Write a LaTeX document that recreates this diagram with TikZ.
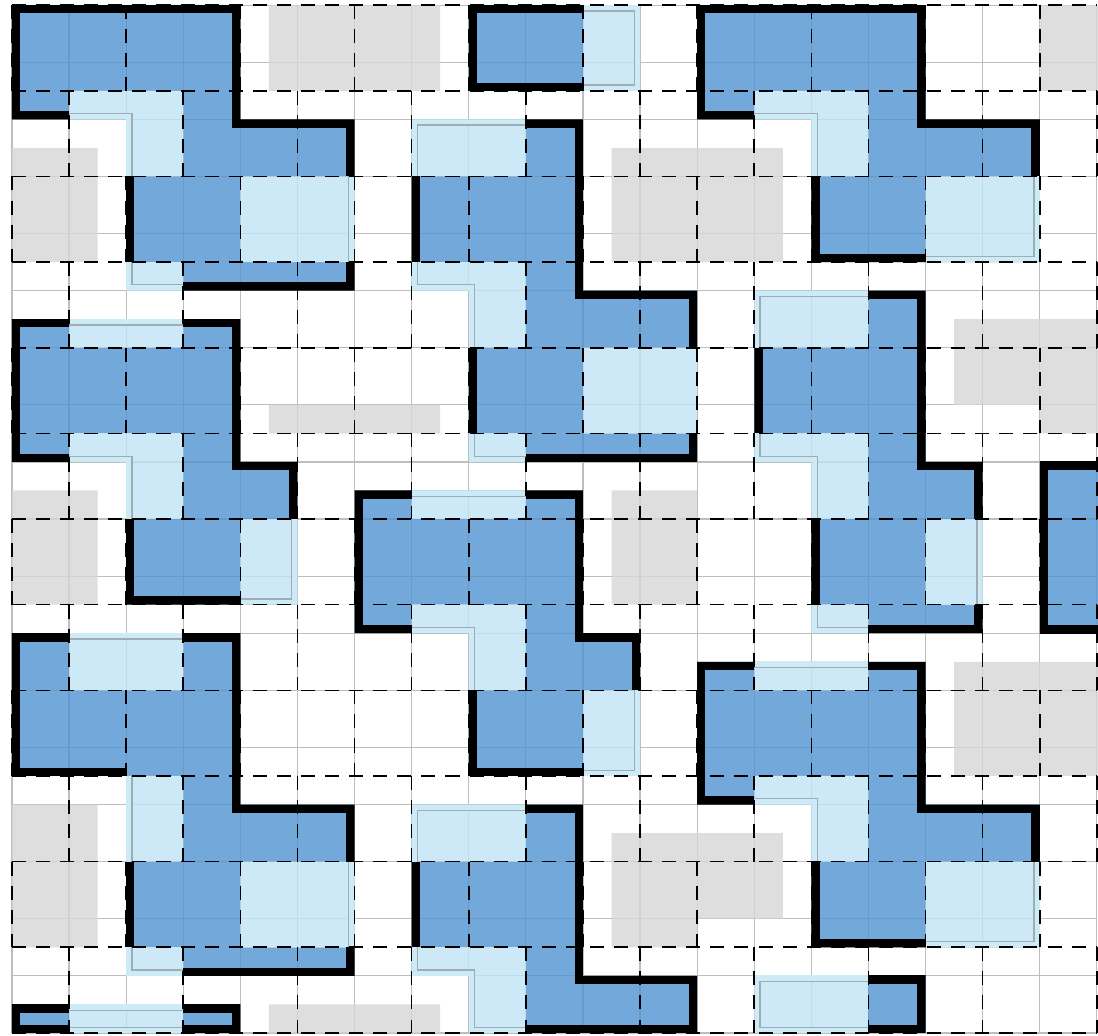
\documentclass[tikz,border=0pt]{standalone}
\usepackage{tikz}
\usepackage{xcolor}
\definecolor{tileblue}{RGB}{80,146,209}
\definecolor{tilelight}{RGB}{192,228,246}
\definecolor{tilelightsolid}{RGB}{205,234,247}
\definecolor{boxgray}{RGB}{214,214,214}
\definecolor{gridgray}{RGB}{190,190,190}
\definecolor{insetgray}{RGB}{160,172,178}

\begin{document}
\begin{tikzpicture}[yscale=-1,
  gridline/.style={gridgray,line width=0.6pt},
  dashline/.style={black,line width=0.8pt,dash pattern=on 7pt off 5pt},
  edgeline/.style={black,line width=0.29cm},
  insetline/.style={draw=insetgray,line width=0.022cm,double=tilelightsolid,double distance=0.18cm},
  tilefill/.style={fill=tileblue,fill opacity=0.8,even odd rule},
  lightfill/.style={fill=tilelight,fill opacity=0.8},
  boxfill/.style={fill=boxgray,fill opacity=0.8}]
\useasboundingbox (-0.21,-0.09) rectangle (19.02,18.05);
\clip (-0.21,-0.09) rectangle (19.02,18.05);
\foreach \x in {0,...,19} \draw[gridline] (\x,0)--(\x,18);
\foreach \y in {0,...,18} \draw[gridline] (0,\y)--(19,\y);
\fill[boxfill] (4.5,0) rectangle (7.5,1.5) (18,0) rectangle (19.5,1.5) (0,2.5) rectangle (1.5,4.5) (10.5,2.5) rectangle (13.5,4.5)
  (16.5,5.5) rectangle (19.5,7) (18,7) rectangle (19.5,7.5) (4.5,7) rectangle (7.5,7.5) (0,8.5) rectangle (1.5,10.5)
  (10.5,8.5) rectangle (12,10.5) (16.5,11.5) rectangle (19.5,13.5) (0,14) rectangle (1.5,16.5)
  (10.5,14.5) rectangle (13.5,16) (10.5,16) rectangle (12,16.5) (4.5,17.5) rectangle (7.5,18);
\begin{scope}
\clip (0,0)--(4,0)--(4,2)--(6,2)--(6,5)--(2,5)--(2,2)--(0,2)--cycle;
\fill[tilefill] (0,0) rectangle (6,5) (1,1.5)--(3,1.5)--(3,3)--(2,3)--(2,2)--(1,2)--cycle (4,3) rectangle (6,4.5) (2,4.5) rectangle (3,5);
\fill[lightfill] (1,1.5)--(3,1.5)--(3,3)--(2,3)--(2,2)--(1,2)--cycle (4,3) rectangle (6,4.5) (2,4.5) rectangle (3,5);
\draw[insetline] (1,2)--(2,2)--(2,3) (6,3)--(6,4.5) (3,5)--(2,5)--(2,4.5);
\draw[edgeline] (1,2)--(0,2)--(0,0)--(4,0)--(4,2)--(6,2)--(6,3) (6,4.5)--(6,5)--(3,5) (2,3)--(2,4.5);
\end{scope}
\begin{scope}
\clip (8,0) rectangle (11,1.5);
\fill[tilefill] (8,0) rectangle (10,1.5);
\fill[lightfill] (10,0) rectangle (11,1.5);
\draw[insetline] (10,0)--(11,0)--(11,1.5)--(10,1.5);
\draw[edgeline] (10,1.5)--(8,1.5)--(8,0)--(10,0);
\end{scope}
\begin{scope}
\clip (7,2)--(10,2)--(10,5)--(12,5)--(12,8)--(8,8)--(8,5)--(7,5)--cycle;
\fill[tilefill] (7,2) rectangle (12,8) (7,2) rectangle (9,3) (7,4.5)--(9,4.5)--(9,6)--(8,6)--(8,5)--(7,5)--cycle (10,6) rectangle (12,7.5) (8,7.5) rectangle (9,8);
\fill[lightfill] (7,2) rectangle (9,3) (7,4.5)--(9,4.5)--(9,6)--(8,6)--(8,5)--(7,5)--cycle (10,6) rectangle (12,7.5) (8,7.5) rectangle (9,8);
\draw[insetline] (7,3)--(7,2)--(9,2) (7,4.5)--(7,5)--(8,5)--(8,6) (8,7.5)--(8,8)--(9,8);
\draw[edgeline] (9,2)--(10,2)--(10,5)--(12,5)--(12,6) (12,7.5)--(12,8)--(9,8) (8,7.5)--(8,6) (7,4.5)--(7,3);
\end{scope}
\begin{scope}
\clip (13,5)--(16,5)--(16,8)--(17,8)--(17,11)--(14,11)--(14,8)--(13,8)--cycle;
\fill[tilefill] (13,5) rectangle (17,11) (13,5) rectangle (15,6) (13,7.5)--(15,7.5)--(15,9)--(14,9)--(14,8)--(13,8)--cycle (16,9) rectangle (17,10.5) (14,10.5) rectangle (15,11);
\fill[lightfill] (13,5) rectangle (15,6) (13,7.5)--(15,7.5)--(15,9)--(14,9)--(14,8)--(13,8)--cycle (16,9) rectangle (17,10.5) (14,10.5) rectangle (15,11);
\draw[insetline] (13,6)--(13,5)--(15,5) (13,7.5)--(13,8)--(14,8)--(14,9) (17,9)--(17,10.5) (14,10.5)--(14,11)--(15,11);
\draw[edgeline] (15,5)--(16,5)--(16,8)--(17,8)--(17,9) (17,10.5)--(17,11)--(15,11) (14,10.5)--(14,9) (13,7.5)--(13,6);
\end{scope}
\begin{scope}
\clip (12,0)--(16,0)--(16,2)--(18,2)--(18,4.5)--(14,4.5)--(14,2)--(12,2)--cycle;
\fill[tilefill] (12,0) rectangle (18,4.5) (13,1.5)--(15,1.5)--(15,3)--(14,3)--(14,2)--(13,2)--cycle (16,3) rectangle (18,4.5);
\fill[lightfill] (13,1.5)--(15,1.5)--(15,3)--(14,3)--(14,2)--(13,2)--cycle (16,3) rectangle (18,4.5);
\draw[insetline] (13,2)--(14,2)--(14,3) (18,3)--(18,4.5)--(16,4.5);
\draw[edgeline] (13,2)--(12,2)--(12,0)--(16,0)--(16,2)--(18,2)--(18,3) (16,4.5)--(14,4.5)--(14,3);
\end{scope}
\begin{scope}
\clip (0,5.5)--(4,5.5)--(4,8)--(5,8)--(5,10.5)--(2,10.5)--(2,8)--(0,8)--cycle;
\fill[tilefill] (0,5.5) rectangle (5,10.5) (1,5.5) rectangle (3,6) (1,7.5)--(3,7.5)--(3,9)--(2,9)--(2,8)--(1,8)--cycle (4,9) rectangle (5,10.5);
\fill[lightfill] (1,5.5) rectangle (3,6) (1,7.5)--(3,7.5)--(3,9)--(2,9)--(2,8)--(1,8)--cycle (4,9) rectangle (5,10.5);
\draw[insetline] (1,5.5)--(3,5.5) (1,8)--(2,8)--(2,9) (5,9)--(5,10.5)--(4,10.5);
\draw[edgeline] (1,5.5)--(0,5.5)--(0,8)--(1,8) (3,5.5)--(4,5.5)--(4,8)--(5,8)--(5,9) (2,9)--(2,10.5)--(4,10.5);
\end{scope}
\begin{scope}
\clip (0,11)--(4,11)--(4,14)--(6,14)--(6,17)--(2,17)--(2,13.5)--(0,13.5)--cycle;
\fill[tilefill] (0,11) rectangle (6,17) (1,11) rectangle (3,12) (2,13.5) rectangle (3,15) (4,15) rectangle (6,16.5) (2,16.5) rectangle (3,17);
\fill[lightfill] (1,11) rectangle (3,12) (2,13.5) rectangle (3,15) (4,15) rectangle (6,16.5) (2,16.5) rectangle (3,17);
\draw[insetline] (1,11)--(3,11) (2,13.5)--(2,15) (6,15)--(6,16.5) (2,16.5)--(2,17)--(3,17);
\draw[edgeline] (1,11)--(0,11)--(0,13.5)--(2,13.5) (3,11)--(4,11)--(4,14)--(6,14)--(6,15) (6,16.5)--(6,17)--(3,17) (2,16.5)--(2,15);
\end{scope}
\begin{scope}
\clip (6,8.5)--(10,8.5)--(10,11)--(11,11)--(11,13.5)--(8,13.5)--(8,11)--(6,11)--cycle;
\fill[tilefill] (6,8.5) rectangle (11,13.5) (7,8.5) rectangle (9,9) (7,10.5)--(9,10.5)--(9,12)--(8,12)--(8,11)--(7,11)--cycle (10,12) rectangle (11,13.5);
\fill[lightfill] (7,8.5) rectangle (9,9) (7,10.5)--(9,10.5)--(9,12)--(8,12)--(8,11)--(7,11)--cycle (10,12) rectangle (11,13.5);
\draw[insetline] (7,8.5)--(9,8.5) (7,11)--(8,11)--(8,12) (11,12)--(11,13.5)--(10,13.5);
\draw[edgeline] (7,8.5)--(6,8.5)--(6,11)--(7,11) (9,8.5)--(10,8.5)--(10,11)--(11,11)--(11,12) (8,12)--(8,13.5)--(10,13.5);
\end{scope}
\begin{scope}
\clip (0,17.5) rectangle (4,18);
\fill[tilefill] (0,17.5) rectangle (1,18) (3,17.5) rectangle (4,18);
\fill[lightfill] (1,17.5) rectangle (3,18);
\draw[insetline] (1,17.5)--(3,17.5) (1,18)--(3,18);
\draw[edgeline] (1,17.5)--(0,17.5)--(0,18)--(1,18) (3,17.5)--(4,17.5)--(4,18)--(3,18);
\end{scope}
\begin{scope}
\clip (12,11.5)--(16,11.5)--(16,14)--(18,14)--(18,16.5)--(14,16.5)--(14,14)--(12,14)--cycle;
\fill[tilefill] (12,11.5) rectangle (18,16.5) (13,11.5) rectangle (15,12) (13,13.5)--(15,13.5)--(15,15)--(14,15)--(14,14)--(13,14)--cycle (16,15) rectangle (18,16.5);
\fill[lightfill] (13,11.5) rectangle (15,12) (13,13.5)--(15,13.5)--(15,15)--(14,15)--(14,14)--(13,14)--cycle (16,15) rectangle (18,16.5);
\draw[insetline] (13,11.5)--(15,11.5) (13,14)--(14,14)--(14,15) (18,15)--(18,16.5)--(16,16.5);
\draw[edgeline] (13,11.5)--(12,11.5)--(12,14)--(13,14) (15,11.5)--(16,11.5)--(16,14)--(18,14)--(18,15) (16,16.5)--(14,16.5)--(14,15);
\end{scope}
\begin{scope}
\clip (7,14)--(10,14)--(10,17)--(12,17)--(12,18)--(8,18)--(8,17)--(7,17)--cycle;
\fill[tilefill] (7,14) rectangle (12,18) (7,14) rectangle (9,15) (7,16.5)--(9,16.5)--(9,18)--(8,18)--(8,17)--(7,17)--cycle;
\fill[lightfill] (7,14) rectangle (9,15) (7,16.5)--(9,16.5)--(9,18)--(8,18)--(8,17)--(7,17)--cycle;
\draw[insetline] (7,15)--(7,14)--(9,14) (7,16.5)--(7,17)--(8,17)--(8,18)--(9,18);
\draw[edgeline] (9,14)--(10,14)--(10,17)--(12,17)--(12,18)--(9,18) (7,16.5)--(7,15);
\end{scope}
\begin{scope}
\clip (13,17) rectangle (16,18);
\fill[tilefill] (15,17) rectangle (16,18);
\fill[lightfill] (13,17) rectangle (15,18);
\draw[insetline] (15,17)--(13,17)--(13,18)--(15,18);
\draw[edgeline] (15,17)--(16,17)--(16,18)--(15,18);
\end{scope}
\begin{scope}
\clip (18,8) rectangle (19.5,11);
\fill[tilefill] (18,8) rectangle (19.5,11);
\draw[edgeline] (19.5,8)--(18,8)--(18,11)--(19.5,11);
\end{scope}
\foreach \k in {0,...,12} \draw[dashline] (0,1.5*\k)--(19,1.5*\k);
\foreach \k in {0,...,11}{
  \pgfmathsetmacro\ya{1.5*\k}
  \pgfmathsetmacro\yb{1.5*\k+1.5}
  \pgfmathtruncatemacro\xa{mod(\k,2)}
  \pgfmathtruncatemacro\xb{\xa+2}
  \foreach \x in {\xa,\xb,...,19} \draw[dashline] (\x,\ya)--(\x,\yb);
}
\end{tikzpicture}
\end{document}
